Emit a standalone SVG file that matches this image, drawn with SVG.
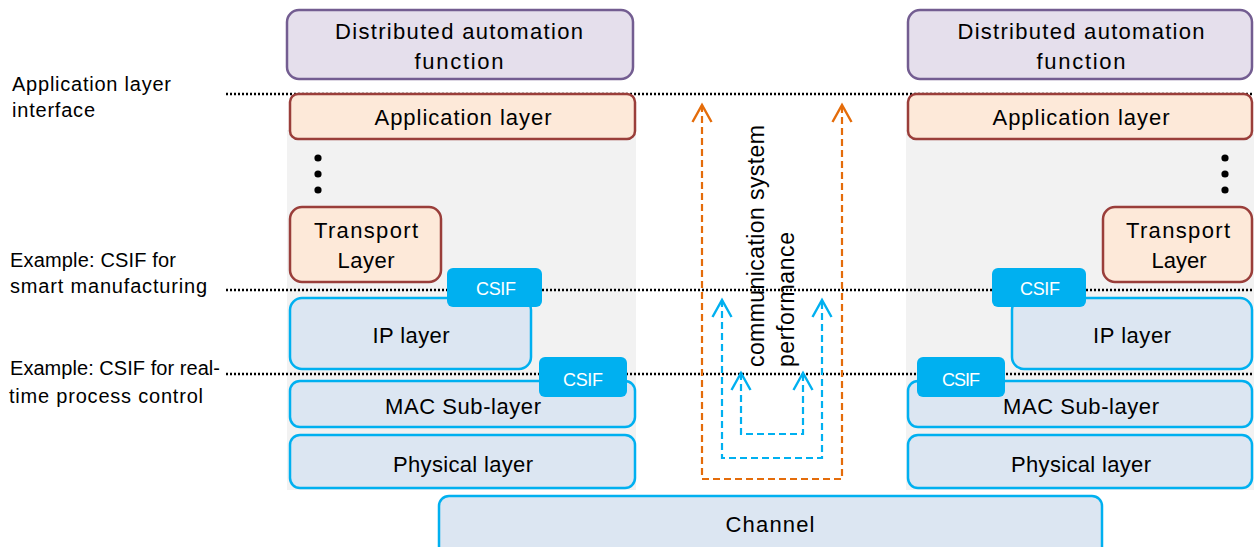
<svg xmlns="http://www.w3.org/2000/svg" width="1254" height="547" viewBox="0 0 1254 547">
<style>
text{font-family:"Liberation Sans",Arial,sans-serif;fill:#000;}
.lbl{font-size:22px;text-anchor:middle;}
.side{font-size:20px;}
.csif-t{font-size:18px;text-anchor:middle;fill:#fff;}
.vt{font-size:23px;}
.daf{fill:#E5DFEC;stroke:#735D91;stroke-width:2.5;}
.app{fill:#FDE9D9;stroke:#9A3E3A;stroke-width:2.5;}
.net{fill:#DCE6F2;stroke:#00B0F0;stroke-width:2.5;}
.csif{fill:#00B0F0;}
.bg{fill:#F2F2F2;}
.dotline{stroke:#000;stroke-width:2.4;stroke-dasharray:2 2;fill:none;}
.dot{fill:#000;}
.orange{stroke:#E46C0A;stroke-width:2.2;stroke-dasharray:7 4;fill:none;marker-start:url(#ao);marker-end:url(#ao);}
.blue{stroke:#00B0F0;stroke-width:2.2;stroke-dasharray:7 4;fill:none;marker-start:url(#ab);marker-end:url(#ab);}
</style>
<defs>
<marker id="ao" markerUnits="userSpaceOnUse" markerWidth="40" markerHeight="40" refX="0" refY="0" orient="auto-start-reverse" overflow="visible">
<path d="M-17,-9.5 L0,0 L-17,9.5" fill="none" stroke="#E46C0A" stroke-width="2.4"/>
</marker>
<marker id="ab" markerUnits="userSpaceOnUse" markerWidth="40" markerHeight="40" refX="0" refY="0" orient="auto-start-reverse" overflow="visible">
<path d="M-17,-9.5 L0,0 L-17,9.5" fill="none" stroke="#00B0F0" stroke-width="2.4"/>
</marker>
</defs>
<rect width="1254" height="547" fill="#fff"/>

<g id="backgrounds">
<rect class="bg" x="287" y="130" width="349" height="360"/>
<rect class="bg" x="906" y="130" width="348" height="360"/>
</g>

<g id="interface-lines">
<line class="dotline" x1="226" y1="94" x2="1254" y2="94"/>
<line class="dotline" x1="226" y1="290" x2="1254" y2="290"/>
<line class="dotline" x1="226" y1="374" x2="1254" y2="374"/>
</g>

<g id="side-labels">
<text class="side" x="12" y="91" textLength="159" lengthAdjust="spacing">Application layer</text>
<text class="side" x="12" y="117" textLength="83" lengthAdjust="spacing">interface</text>
<text class="side" x="10" y="267" textLength="166" lengthAdjust="spacing">Example: CSIF for</text>
<text class="side" x="10" y="293" textLength="197" lengthAdjust="spacing">smart manufacturing</text>
<text class="side" x="10" y="375" textLength="210" lengthAdjust="spacing">Example: CSIF for real-</text>
<text class="side" x="9" y="403" textLength="194" lengthAdjust="spacing">time process control</text>
</g>

<!-- Left stack -->
<g id="left-daf">
<rect class="daf" x="287" y="10" width="346" height="69" rx="12"/>
<text class="lbl" x="459" y="39" textLength="248" lengthAdjust="spacing">Distributed automation</text>
<text class="lbl" x="459" y="69" textLength="89" lengthAdjust="spacing">function</text>
</g>
<g id="left-app">
<rect class="app" x="290" y="94" width="345" height="45" rx="8"/>
<text class="lbl" x="463" y="125" textLength="177" lengthAdjust="spacing">Application layer</text>
</g>
<g id="left-dots">
<circle class="dot" cx="318" cy="158" r="3.6"/>
<circle class="dot" cx="318" cy="174" r="3.6"/>
<circle class="dot" cx="318" cy="190" r="3.6"/>
</g>
<g id="left-transport">
<rect class="app" x="290" y="207" width="151" height="75" rx="12"/>
<text class="lbl" x="366" y="238" textLength="104" lengthAdjust="spacing">Transport</text>
<text class="lbl" x="366" y="268" textLength="57" lengthAdjust="spacing">Layer</text>
</g>
<g id="left-ip">
<rect class="net" x="290" y="298" width="241" height="71" rx="12"/>
<text class="lbl" x="411" y="343" textLength="77" lengthAdjust="spacing">IP layer</text>
</g>
<g id="left-mac">
<rect class="net" x="290" y="381" width="345" height="46" rx="10"/>
<text class="lbl" x="463" y="414" textLength="156" lengthAdjust="spacing">MAC Sub-layer</text>
</g>
<g id="left-phy">
<rect class="net" x="290" y="435" width="345" height="53" rx="10"/>
<text class="lbl" x="463" y="472" textLength="140" lengthAdjust="spacing">Physical layer</text>
</g>
<g id="left-csif-ip">
<rect class="csif" x="447" y="268" width="95" height="39" rx="6"/>
<text class="csif-t" x="496" y="295" textLength="40" lengthAdjust="spacing">CSIF</text>
</g>
<g id="left-csif-mac">
<rect class="csif" x="539" y="357" width="88" height="40" rx="6"/>
<text class="csif-t" x="583" y="386" textLength="40" lengthAdjust="spacing">CSIF</text>
</g>

<!-- Right stack -->
<g id="right-daf">
<rect class="daf" x="908" y="10" width="344" height="69" rx="12"/>
<text class="lbl" x="1081" y="39" textLength="247" lengthAdjust="spacing">Distributed automation</text>
<text class="lbl" x="1081" y="69" textLength="89" lengthAdjust="spacing">function</text>
</g>
<g id="right-app">
<rect class="app" x="908" y="94" width="344" height="45" rx="8"/>
<text class="lbl" x="1081" y="125" textLength="177" lengthAdjust="spacing">Application layer</text>
</g>
<g id="right-dots">
<circle class="dot" cx="1225" cy="158" r="3.6"/>
<circle class="dot" cx="1225" cy="174" r="3.6"/>
<circle class="dot" cx="1225" cy="190" r="3.6"/>
</g>
<g id="right-transport">
<rect class="app" x="1103" y="207" width="149" height="75" rx="12"/>
<text class="lbl" x="1178" y="238" textLength="104" lengthAdjust="spacing">Transport</text>
<text class="lbl" x="1179" y="268" textLength="55" lengthAdjust="spacing">Layer</text>
</g>
<g id="right-ip">
<rect class="net" x="1012" y="298" width="240" height="71" rx="12"/>
<text class="lbl" x="1132" y="343" textLength="78" lengthAdjust="spacing">IP layer</text>
</g>
<g id="right-mac">
<rect class="net" x="908" y="381" width="344" height="46" rx="10"/>
<text class="lbl" x="1081" y="414" textLength="156" lengthAdjust="spacing">MAC Sub-layer</text>
</g>
<g id="right-phy">
<rect class="net" x="908" y="435" width="344" height="53" rx="10"/>
<text class="lbl" x="1081" y="472" textLength="140" lengthAdjust="spacing">Physical layer</text>
</g>
<g id="right-csif-ip">
<rect class="csif" x="992" y="268" width="94" height="39" rx="6"/>
<text class="csif-t" x="1040" y="295" textLength="40" lengthAdjust="spacing">CSIF</text>
</g>
<g id="right-csif-mac">
<rect class="csif" x="917" y="357" width="88" height="40" rx="6"/>
<text class="csif-t" x="961" y="386" textLength="38" lengthAdjust="spacing">CSIF</text>
</g>

<g id="channel">
<rect class="net" x="439" y="496" width="663" height="64" rx="10"/>
<text class="lbl" x="770" y="532" textLength="89" lengthAdjust="spacing">Channel</text>
</g>

<g id="connectors">
<path class="orange" d="M702,105 V479 H842 V105"/>
<path class="blue" d="M722,300 V458 H822 V300"/>
<path class="blue" d="M741,373 V434 H803 V373"/>
</g>

<g id="performance-label">
<text class="vt" transform="translate(764,367) rotate(-90)" textLength="242" lengthAdjust="spacing">communication system</text>
<text class="vt" transform="translate(794,367) rotate(-90)" textLength="135" lengthAdjust="spacing">performance</text>
</g>
</svg>
